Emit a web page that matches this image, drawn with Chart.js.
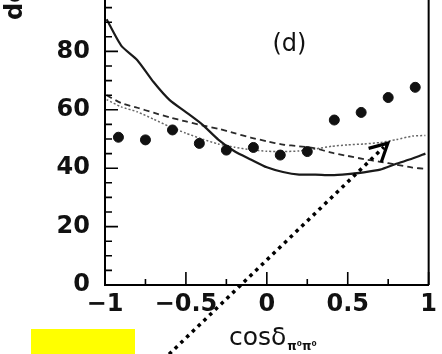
<!DOCTYPE html>
<html>
<head>
<meta charset="utf-8">
<script src="https://cdn.jsdelivr.net/npm/chart.js@4.4.1/dist/chart.umd.min.js"></script>
<style>
  html, body { margin: 0; padding: 0; background: #fff; overflow: hidden; }
  body { width: 442px; height: 354px; position: relative; }
  #wrap { position: absolute; left: 0; top: -40px; width: 442px; height: 420px; }
  #yellow { position: absolute; left: 31px; top: 329px; width: 104px; height: 25px; background: #ffff00; }
</style>
</head>
<body>
<div id="wrap"><canvas id="miCanvas" width="442" height="420"></canvas></div>
<div id="yellow"></div>
<script>
// data points (filled circles), bin centres
const binCenters = [-0.917, -0.75, -0.583, -0.417, -0.25, -0.083, 0.083, 0.25, 0.417, 0.583, 0.75, 0.917];
const dataValues = [50.6, 49.7, 53.1, 48.5, 46.2, 47.1, 44.5, 45.7, 56.5, 59.1, 64.2, 67.7];

// curves
const curveX = [-0.99, -0.9, -0.8, -0.7, -0.6, -0.5, -0.4, -0.3, -0.2, -0.1, 0, 0.1, 0.2, 0.3, 0.4, 0.5, 0.6, 0.7, 0.8, 0.9, 0.98];
const solidY = [91, 82, 77, 69.5, 63.3, 59.2, 55, 49.8, 45.8, 43, 40.3, 38.7, 37.8, 37.8, 37.6, 38, 38.6, 39.5, 41.5, 43.3, 45];
const dashedY = [65, 62.3, 60.7, 59, 57.4, 56, 54.7, 53.5, 52, 50.5, 49.2, 48.1, 47.5, 46.8, 45.3, 44.2, 43.1, 42.2, 41.2, 40.2, 39.8];
const dottedY = [63.5, 61, 59.3, 56.8, 54.2, 52, 50, 48.3, 47.2, 46.3, 45.8, 45.7, 45.9, 46.6, 47.5, 48, 48.3, 48.8, 49.8, 51, 51.2];

// axis ticks
const xTickMajor = [-1, -0.5, 0, 0.5, 1];
const xTickMinor = [-0.75, -0.25, 0.25, 0.75];
const yTickMajor = [0, 20, 40, 60, 80, 100];
const yTickMinor = [5, 10, 15, 25, 30, 35, 45, 50, 55, 65, 70, 75, 85, 90, 95];

// annotation arrow (data units)
const arrowFrom = [-0.604, -23.7];
const arrowTo = [0.748, 48.6];
const panelLabel = '(d)';
const panelLabelPos = [0.14, 82.4];

const toPts = (xs, ys) => xs.map((x, i) => ({ x: x, y: ys[i] }));
const fontName = '"DejaVu Sans", "Liberation Sans", sans-serif';

const decor = {
  id: 'decor',
  afterDatasetsDraw(chart) {
    const ctx = chart.ctx;
    const xs = chart.scales.x, ys = chart.scales.y;
    const a = chart.chartArea;
    ctx.save();
    ctx.strokeStyle = '#000';
    ctx.lineWidth = 2;
    // frame: right and top
    ctx.beginPath();
    ctx.moveTo(a.left, a.top); ctx.lineTo(a.right, a.top); ctx.lineTo(a.right, a.bottom);
    ctx.stroke();
    // inner ticks
    ctx.lineWidth = 1.6;
    ctx.beginPath();
    xTickMajor.forEach(v => { const p = xs.getPixelForValue(v); ctx.moveTo(p, a.bottom); ctx.lineTo(p, a.bottom - 13); });
    xTickMinor.forEach(v => { const p = xs.getPixelForValue(v); ctx.moveTo(p, a.bottom); ctx.lineTo(p, a.bottom - 6); });
    yTickMajor.forEach(v => { const p = ys.getPixelForValue(v); ctx.moveTo(a.left, p); ctx.lineTo(a.left + 13, p); });
    yTickMinor.forEach(v => { const p = ys.getPixelForValue(v); ctx.moveTo(a.left, p); ctx.lineTo(a.left + 7, p); });
    ctx.stroke();

    // panel label
    ctx.fillStyle = '#111';
    ctx.font = '24px ' + fontName;
    ctx.textAlign = 'center';
    ctx.textBaseline = 'middle';
    ctx.fillText(panelLabel, xs.getPixelForValue(panelLabelPos[0]), ys.getPixelForValue(panelLabelPos[1]));

    // x axis title
    ctx.textAlign = 'left';
    ctx.textBaseline = 'alphabetic';
    ctx.font = '25px ' + fontName;
    const tx = 229, ty = 385;
    ctx.fillText('cosδ', tx, ty);
    const w = ctx.measureText('cosδ').width;
    ctx.font = 'bold 12px ' + fontName;
    ctx.fillText('π⁰π⁰', tx + w + 1, ty + 5);

    // y axis title (rotated, mostly outside the picture)
    ctx.save();
    ctx.translate(22, 60);
    ctx.rotate(-Math.PI / 2);
    ctx.font = 'bold 24px ' + fontName;
    ctx.textAlign = 'left';
    ctx.fillText('dσ/dcosδ', 0, 0);
    ctx.restore();

    // dotted arrow
    const x0 = xs.getPixelForValue(arrowFrom[0]), y0 = ys.getPixelForValue(arrowFrom[1]);
    const x1 = xs.getPixelForValue(arrowTo[0]), y1 = ys.getPixelForValue(arrowTo[1]);
    ctx.lineWidth = 3.5;
    ctx.setLineDash([3.5, 4.5]);
    ctx.beginPath();
    ctx.moveTo(x0, y0); ctx.lineTo(x1 - 4, y1 + 4);
    ctx.stroke();
    ctx.setLineDash([]);
    const ang = Math.atan2(y0 - y1, x0 - x1);
    ctx.lineWidth = 3.2;
    ctx.beginPath();
    ctx.moveTo(x1 + 20 * Math.cos(ang + 0.5), y1 + 20 * Math.sin(ang + 0.5));
    ctx.lineTo(x1, y1);
    ctx.lineTo(x1 + 20 * Math.cos(ang - 0.47), y1 + 20 * Math.sin(ang - 0.47));
    ctx.stroke();
    ctx.restore();
  }
};

const canvas = document.getElementById('miCanvas');
window.miChart = new Chart(canvas.getContext('2d'), {
  type: 'scatter',
  data: {
    datasets: [
      {
        label: 'data',
        data: toPts(binCenters, dataValues),
        backgroundColor: '#111',
        borderColor: '#111',
        pointRadius: 5,
        showLine: false
      },
      {
        label: 'solid',
        data: toPts(curveX, solidY),
        borderColor: '#1a1a1a',
        borderWidth: 2.2,
        pointRadius: 0,
        showLine: true,
        tension: 0.2
      },
      {
        label: 'dashed',
        data: toPts(curveX, dashedY),
        borderColor: '#2a2a2a',
        borderWidth: 1.8,
        borderDash: [6, 4],
        pointRadius: 0,
        showLine: true,
        tension: 0.2
      },
      {
        label: 'dotted',
        data: toPts(curveX, dottedY),
        borderColor: '#666',
        borderWidth: 1.5,
        borderDash: [2, 2],
        pointRadius: 0,
        showLine: true,
        tension: 0.2
      }
    ]
  },
  options: {
    responsive: false,
    animation: false,
    devicePixelRatio: 1,
    layout: { padding: { left: 0, right: 9, top: 33, bottom: 0 } },
    plugins: { legend: { display: false }, tooltip: { enabled: false } },
    scales: {
      x: {
        type: 'linear',
        min: -1, max: 1,
        afterFit: (s) => { s.height = 95; },
        grid: { display: false, drawTicks: false },
        border: { display: true, color: '#000', width: 2 },
        ticks: {
          stepSize: 0.5,
          padding: 5,
          color: '#111',
          font: { family: fontName, size: 24, weight: 'bold' },
          callback: (v) => (v === 0 ? '0' : String(v).replace('-', '−'))
        }
      },
      y: {
        type: 'linear',
        min: 0, max: 100,
        afterFit: (s) => { s.width = 105; },
        grid: { display: false, drawTicks: false },
        border: { display: true, color: '#000', width: 2 },
        ticks: {
          stepSize: 20,
          padding: 15,
          color: '#111',
          font: { family: fontName, size: 24, weight: 'bold' }
        }
      }
    }
  },
  plugins: [decor]
});
</script>
</body>
</html>
